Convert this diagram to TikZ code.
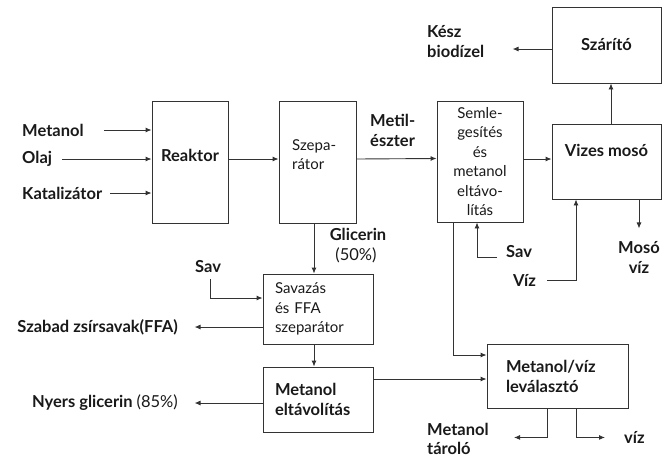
\documentclass[tikz,border=0pt]{standalone}
\usepackage{fontspec}
\setmainfont{Lato}
\usetikzlibrary{positioning,arrows.meta}
\tikzset{
  box/.style={draw=black!80, line width=0.9pt, inner sep=0pt},
  flow/.style={-{Latex[length=6pt,width=5pt]}, draw=black!80, line width=0.9pt},
  lbl/.style={font=\bfseries\fontsize{16.5}{20}\selectfont, text=black!90, inner sep=0pt, align=left},
  txt/.style={font=\fontsize{15}{19.5}\selectfont, text=black!90, inner sep=0pt}
}
\begin{document}
\begin{tikzpicture}[x=1pt,y=-1pt]
\useasboundingbox (0,0) rectangle (662,459);
\node[box, minimum width=76, minimum height=122] (reaktor) at (190,162) {};
\node[lbl] at ([yshift=7pt]reaktor.center) {Reaktor};
\node[box, minimum width=77, minimum height=122] (szep) at (317.5,162) {};
\node[txt, anchor=north west, align=left] at (292,139) {Szepa-\\rátor};
\node[box, txt, minimum width=86, minimum height=121, align=center] (semleg) at (480,161.5) {Semle-\\gesítés\\és\\metanol\\eltávo-\\lítás};
\node[box, minimum width=109, minimum height=75] (moso) at (606.5,161.5) {};
\node[lbl] at ([yshift=11pt]moso.center) {Vizes mosó};
\node[box, lbl, minimum width=109, minimum height=76] (szarito) at (606.5,45) {Szárító};
\node[box, txt, minimum width=110, minimum height=70, text width=86, align=left] (savazas) at (318,309) {Savazás\\és FFA\\szeparátor};
\node[box, lbl, minimum width=110, minimum height=65, text width=86, align=left] (meltav) at (318,399.5) {Metanol\\eltávolítás};
\node[box, lbl, minimum width=141, minimum height=64, text width=103, align=left] (mvsep) at (557.5,376) {Metanol/víz\\leválasztó};

\node[lbl, anchor=west] (metanol) at (22,130) {Metanol};
\node[lbl, anchor=west] (olaj) at (22,159) {Olaj};
\node[lbl, anchor=west] (katal) at (22,193) {Katalizátor};
\node[lbl, anchor=west] (metil) at (370,130) {Metil-\\észter};
\node[lbl, anchor=west] (kesz) at (427,42) {Kész\\biodízel};
\node[lbl, align=center] (mosoviz) at (639,257) {Mosó\\víz};
\node[lbl, anchor=west] (sav) at (506,252) {Sav};
\node[lbl, anchor=west] (viz) at (513,280) {Víz};
\node[lbl] (glic) at (358,234) {Glicerin};
\node[txt, font=\fontsize{16.5}{20}\selectfont] (otven) at (356,255) {(50\%)};
\node[lbl, anchor=west] (sav2) at (195,267) {Sav};
\node[lbl, anchor=east] (ffa) at (178,327) {Szabad zsírsavak(FFA)};
\node[lbl, anchor=east] (nyers) at (178,403) {Nyers glicerin \mdseries(85\%)};
\node[lbl, anchor=west, font=\bfseries\fontsize{16.5}{18.5}\selectfont] (tarolo) at (427,439) {Metanol\\tároló};
\node[lbl, anchor=west] (viz2) at (624,437) {víz};

\draw[flow] ([xshift=20pt]metanol.east) -- (metanol -| reaktor.west);
\draw[flow] ([xshift=10pt]olaj.east) -- (olaj -| reaktor.west);
\draw[flow] ([xshift=8pt]katal.east) -- (katal -| reaktor.west);
\draw[flow] ([yshift=3pt]reaktor.east) -- ([yshift=3pt]szep.west);
\draw[flow] ([yshift=3pt]szep.east) -- ([yshift=3pt]semleg.west);
\draw[flow] ([yshift=2.5pt]semleg.east) -- ([yshift=2.5pt]moso.west);
\draw[flow] ([xshift=4.5pt]moso.north) -- ([xshift=4.5pt]szarito.south);
\draw[flow] ([yshift=-4pt]szarito.west) -- ++(-39,0);
\draw[flow] ([xshift=32.5pt]moso.south) -- ++(0,29);
\draw[flow] ([xshift=11pt]viz.east) -| ([xshift=-30.5pt]moso.south);
\draw[flow] ([xshift=-9pt,yshift=-5pt]sav.west) -| ([xshift=-3pt]semleg.south);
\draw[flow] ([xshift=-27pt]semleg.south) |- ([yshift=21pt]mvsep.west);
\coordinate (m1) at ([yshift=20.5pt]meltav.east);
\draw[flow] (m1) -- (m1 -| mvsep.west);
\draw[flow] ([xshift=-3.5pt]szep.south) -- ([xshift=-4pt]savazas.north);
\draw[flow] ([xshift=-4pt]savazas.south) -- ([xshift=-4pt]meltav.north);
\draw[flow] ([xshift=2pt,yshift=-6pt]sav2.south) |- ([yshift=11pt]savazas.west);
\draw[flow] ([yshift=-18pt]savazas.west) -- ++(-68,0);
\draw[flow] ([yshift=-3.5pt]meltav.west) -- ++(-68,0);
\draw[flow] ([xshift=-10.5pt]mvsep.south) -- ++(0,29) -- ++(-33,0);
\draw[flow] ([xshift=18.5pt]mvsep.south) -- ++(0,29) -- ++(29,0);
\end{tikzpicture}
\end{document}
